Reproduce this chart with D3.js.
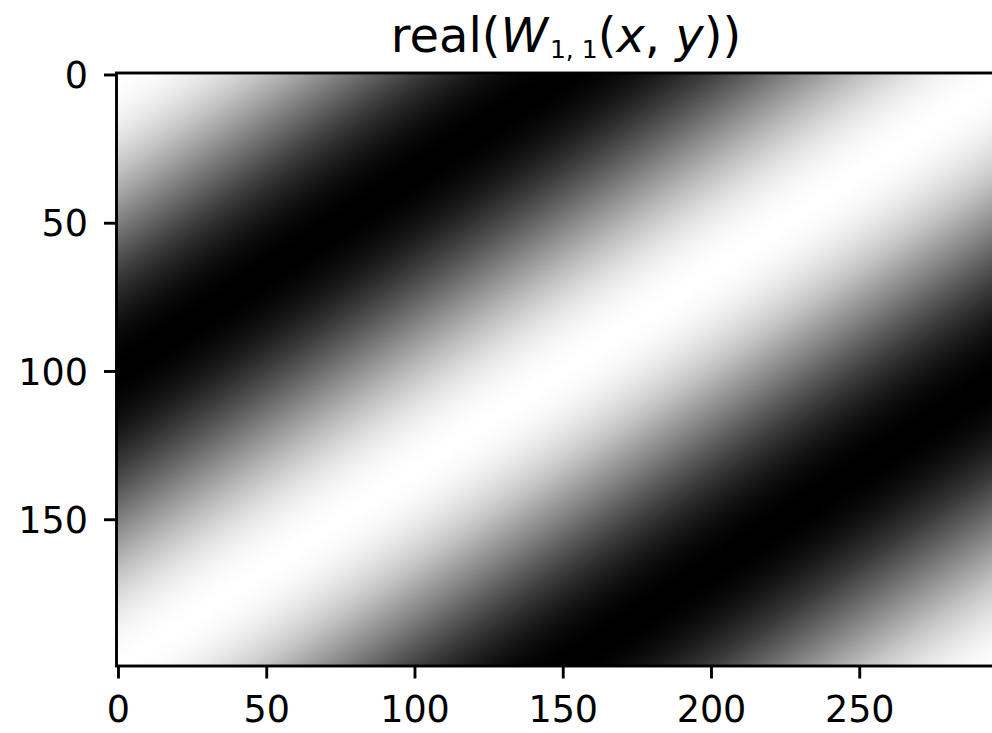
<!DOCTYPE html>
<html>
<head>
<meta charset="utf-8">
<script src="https://cdn.jsdelivr.net/npm/d3@7"></script>
<style>
  html, body { margin: 0; padding: 0; background: #fff; }
  svg { display: block; font-family: "DejaVu Sans", sans-serif; }
</style>
</head>
<body>
<svg id="chart" width="992" height="733"></svg>
<script>
// Image size (columns M, rows N) and the frequency pair (u, v) of the basis image
const imageSize = [300, 200];
const frequency = [1, 1];
const xTicks = [0, 50, 100, 150, 200, 250];
const yTicks = [0, 50, 100, 150];

const [M, N] = imageSize;
const [u, v] = frequency;

const svg = d3.select("#chart");
const cell = 2.965;                 // pixels per image cell
const plotLeft = 116.5, plotTop = 73;

const x = d3.scaleLinear().domain([-0.5, M - 0.5]).range([plotLeft, plotLeft + M * cell]);
const y = d3.scaleLinear().domain([-0.5, N - 0.5]).range([plotTop, plotTop + N * cell]);

// Real part of the DFT basis W_{u,v}(x,y) = exp(-j2π(ux/M + vy/N))
const values = [];
for (let r = 0; r < N; r++) {
  for (let c = 0; c < M; c++) {
    values.push(Math.cos(2 * Math.PI * (u * c / M + v * r / N)));
  }
}

// Gray colormap: -1 -> black, +1 -> white
const color = d3.scaleLinear().domain(d3.extent(values)).range(["#000000", "#ffffff"]);

const canvas = document.createElement("canvas");
canvas.width = M; canvas.height = N;
const ctx = canvas.getContext("2d");
const img = ctx.createImageData(M, N);
values.forEach((val, i) => {
  const c = d3.rgb(color(val));
  img.data[i * 4] = c.r; img.data[i * 4 + 1] = c.g; img.data[i * 4 + 2] = c.b; img.data[i * 4 + 3] = 255;
});
ctx.putImageData(img, 0, 0);

svg.append("image")
  .attr("href", canvas.toDataURL())
  .attr("x", x(-0.5)).attr("y", y(-0.5))
  .attr("width", x(M - 0.5) - x(-0.5)).attr("height", y(N - 0.5) - y(-0.5))
  .attr("preserveAspectRatio", "none");

// Frame
svg.append("rect")
  .attr("x", x(-0.5)).attr("y", y(-0.5))
  .attr("width", x(M - 0.5) - x(-0.5)).attr("height", y(N - 0.5) - y(-0.5))
  .attr("fill", "none").attr("stroke", "#000").attr("stroke-width", 2.9);

// Axes
const xAxis = d3.axisBottom(x).tickValues(xTicks).tickSize(12.5).tickPadding(18);
const yAxis = d3.axisLeft(y).tickValues(yTicks).tickSize(12.5).tickPadding(16);

const gx = svg.append("g").attr("transform", `translate(0,${y(N - 0.5)})`).call(xAxis);
const gy = svg.append("g").attr("transform", `translate(${x(-0.5)},0)`).call(yAxis);

[gx, gy].forEach(g => {
  g.select(".domain").remove();
  g.selectAll(".tick line").attr("stroke", "#000").attr("stroke-width", 2.9);
  g.selectAll(".tick text").attr("fill", "#000")
    .style("font-family", "'DejaVu Sans', sans-serif").style("font-size", "36.5px");
});
gx.selectAll(".tick text").attr("dy", "0.71em");
gy.selectAll(".tick text").attr("dy", "0.36em");

// Title: real(W_{1,1}(x, y))
const title = svg.append("text")
  .attr("x", 566).attr("y", 52)
  .attr("text-anchor", "middle")
  .style("font-size", "48px").attr("fill", "#000");
title.append("tspan").text("real(");
title.append("tspan").style("font-style", "italic").text("W");
title.append("tspan").attr("dy", 6).attr("dx", 2).style("font-size", "25px").text(`${u}, ${v}`);
title.append("tspan").attr("dy", -6).text("(");
title.append("tspan").style("font-style", "italic").text("x");
title.append("tspan").text(", ");
title.append("tspan").style("font-style", "italic").text("y");
title.append("tspan").text("))");
</script>
</body>
</html>
